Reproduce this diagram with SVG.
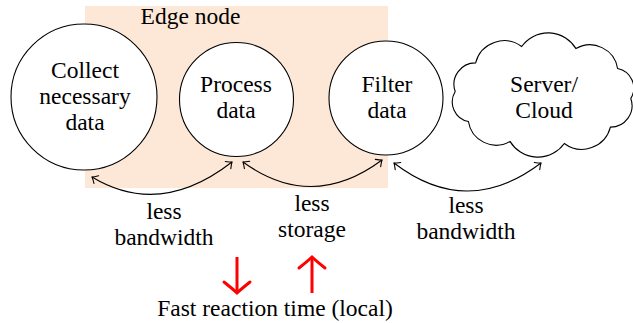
<svg xmlns="http://www.w3.org/2000/svg" width="633" height="323" viewBox="0 0 633 323">
<style>
text{font-family:"Liberation Serif","Times New Roman",serif;font-size:23.5px;fill:#000;text-anchor:middle}
.node{fill:#fff;stroke:#000;stroke-width:1.1}
.conn{fill:none;stroke:#000;stroke-width:1.1;marker-start:url(#to);marker-end:url(#to)}
.red{fill:none;stroke:#ff0000;stroke-width:3;marker-end:url(#redto)}
</style>
<defs>
<marker id="to" markerUnits="userSpaceOnUse" viewBox="-10 -10 20 20" markerWidth="20" markerHeight="20" refX="0" refY="0" orient="auto-start-reverse" overflow="visible">
<path d="M-5,-4.5 Q-1.5,-1 0,0 Q-1.5,1 -5,4.5" fill="none" stroke="#000" stroke-width="1.1" stroke-linecap="round"/>
</marker>
<marker id="redto" markerUnits="userSpaceOnUse" viewBox="-20 -20 40 40" markerWidth="40" markerHeight="40" refX="0" refY="0" orient="auto" overflow="visible">
<path d="M-11,-13 Q-3,-3 0,0 Q-3,3 -11,13" fill="none" stroke="#ff0000" stroke-width="3" stroke-linecap="round"/>
</marker>
</defs>
<g id="edge-node">
<rect x="85" y="6" width="303" height="182" fill="#fde8d7"/>
<text x="190.5" y="24">Edge node</text>
</g>
<g id="collect">
<circle class="node" cx="84" cy="97" r="73"/>
<text x="85" y="78">Collect</text>
<text x="85" y="104">necessary</text>
<text x="85" y="130">data</text>
</g>
<g id="process">
<circle class="node" cx="236.5" cy="99.5" r="57"/>
<text x="236" y="92">Process</text>
<text x="236" y="118">data</text>
</g>
<g id="filter">
<circle class="node" cx="386" cy="98" r="57"/>
<text x="387" y="92">Filter</text>
<text x="387" y="118">data</text>
</g>
<g id="cloud">
<path class="node" d="M521.7,46.5 A32.5,32.5 0 0 1 576,48.6 A28,28 0 0 1 617.6,68.5 A20,20 0 0 1 630.8,98.5 A21.5,21.5 0 0 1 610.4,127.1 A29.5,29.5 0 0 1 564.3,143.5 A32.5,32.5 0 0 1 510,141.4 A28,28 0 0 1 468.4,121.5 A20,20 0 0 1 455.2,91.5 A21.5,21.5 0 0 1 475.6,62.9 A29.5,29.5 0 0 1 521.7,46.5 Z"/>
<text x="544" y="92">Server/</text>
<text x="544" y="118">Cloud</text>
</g>
<g id="connectors">
<path class="conn" d="M92,177 Q160,218 232,162"/>
<path class="conn" d="M243,162 Q312,212 382,160"/>
<path class="conn" d="M394,163 Q467,219 541,163"/>
<path class="red" d="M237,257 L237,293"/>
<path class="red" d="M312,293 L312,257"/>
</g>
<g id="labels">
<text x="164" y="219">less</text>
<text x="164" y="245">bandwidth</text>
<text x="312" y="211">less</text>
<text x="312" y="237">storage</text>
<text x="466" y="213">less</text>
<text x="466" y="239">bandwidth</text>
<text x="275" y="316">Fast reaction time (local)</text>
</g>
</svg>
